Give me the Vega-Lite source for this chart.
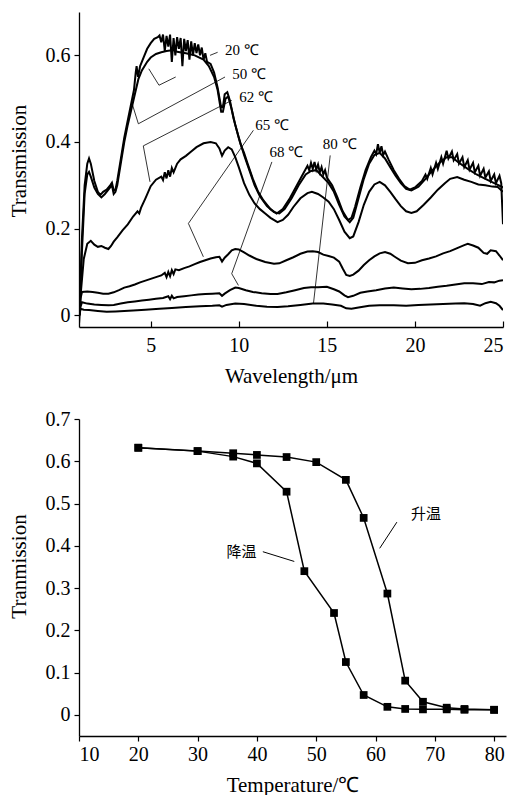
{
"$schema":"https://vega.github.io/schema/vega-lite/v6.json",
"background":"white",
"padding":{"left":8,"top":12,"right":3,"bottom":0},
"spacing":23,
"config":{"view":{"stroke":null},"font":"Liberation Serif",
"axis":{"grid":false,"domainColor":"black","domainWidth":1.3,"tickColor":"black","tickWidth":1.2,"labelColor":"black","titleColor":"black","labelFont":"Liberation Serif","titleFont":"Liberation Serif","labelFontSize":20,"titleFontSize":21,"titleFontWeight":"normal"}},
"datasets":{
"spectra":[
{"T":"20","wl":0.93,"tr":-0.02},{"T":"20","wl":1.1,"tr":0.18},{"T":"20","wl":1.25,"tr":0.3},{"T":"20","wl":1.4,"tr":0.35},{"T":"20","wl":1.5,"tr":0.362},{"T":"20","wl":1.6,"tr":0.35},{"T":"20","wl":1.8,"tr":0.31},{"T":"20","wl":2.0,"tr":0.285},{"T":"20","wl":2.15,"tr":0.278},{"T":"20","wl":2.3,"tr":0.285},{"T":"20","wl":2.5,"tr":0.29},{"T":"20","wl":2.7,"tr":0.3},{"T":"20","wl":2.8,"tr":0.306},{"T":"20","wl":2.9,"tr":0.288},{"T":"20","wl":3.0,"tr":0.29},{"T":"20","wl":3.1,"tr":0.31},{"T":"20","wl":3.3,"tr":0.36},{"T":"20","wl":3.5,"tr":0.41},{"T":"20","wl":3.7,"tr":0.45},{"T":"20","wl":3.9,"tr":0.49},{"T":"20","wl":4.05,"tr":0.52},{"T":"20","wl":4.15,"tr":0.56},{"T":"20","wl":4.2,"tr":0.575},{"T":"20","wl":4.28,"tr":0.55},{"T":"20","wl":4.4,"tr":0.575},{"T":"20","wl":4.6,"tr":0.595},{"T":"20","wl":4.8,"tr":0.615},{"T":"20","wl":5.0,"tr":0.628},{"T":"20","wl":5.2,"tr":0.638},{"T":"20","wl":5.4,"tr":0.642},{"T":"20","wl":5.5,"tr":0.646},{"T":"20","wl":5.6,"tr":0.63},{"T":"20","wl":5.7,"tr":0.648},{"T":"20","wl":5.8,"tr":0.61},{"T":"20","wl":5.9,"tr":0.645},{"T":"20","wl":6.0,"tr":0.62},{"T":"20","wl":6.1,"tr":0.648},{"T":"20","wl":6.2,"tr":0.585},{"T":"20","wl":6.3,"tr":0.64},{"T":"20","wl":6.4,"tr":0.6},{"T":"20","wl":6.5,"tr":0.642},{"T":"20","wl":6.6,"tr":0.615},{"T":"20","wl":6.7,"tr":0.64},{"T":"20","wl":6.8,"tr":0.575},{"T":"20","wl":6.9,"tr":0.638},{"T":"20","wl":7.0,"tr":0.61},{"T":"20","wl":7.1,"tr":0.635},{"T":"20","wl":7.2,"tr":0.59},{"T":"20","wl":7.3,"tr":0.632},{"T":"20","wl":7.4,"tr":0.6},{"T":"20","wl":7.5,"tr":0.628},{"T":"20","wl":7.6,"tr":0.605},{"T":"20","wl":7.7,"tr":0.625},{"T":"20","wl":7.8,"tr":0.6},{"T":"20","wl":7.9,"tr":0.618},{"T":"20","wl":8.0,"tr":0.59},{"T":"20","wl":8.1,"tr":0.605},{"T":"20","wl":8.2,"tr":0.585},{"T":"20","wl":8.4,"tr":0.58},{"T":"20","wl":8.6,"tr":0.56},{"T":"20","wl":8.8,"tr":0.525},{"T":"20","wl":9.0,"tr":0.48},{"T":"20","wl":9.1,"tr":0.48},{"T":"20","wl":9.2,"tr":0.51},{"T":"20","wl":9.35,"tr":0.515},{"T":"20","wl":9.5,"tr":0.495},{"T":"20","wl":9.7,"tr":0.455},{"T":"20","wl":9.9,"tr":0.425},{"T":"20","wl":10.1,"tr":0.395},{"T":"20","wl":10.3,"tr":0.375},{"T":"20","wl":10.5,"tr":0.35},{"T":"20","wl":10.8,"tr":0.315},{"T":"20","wl":11.1,"tr":0.285},{"T":"20","wl":11.4,"tr":0.265},{"T":"20","wl":11.8,"tr":0.245},{"T":"20","wl":12.15,"tr":0.235},{"T":"20","wl":12.5,"tr":0.245},{"T":"20","wl":12.9,"tr":0.27},{"T":"20","wl":13.3,"tr":0.3},{"T":"20","wl":13.7,"tr":0.33},{"T":"20","wl":13.9,"tr":0.345},{"T":"20","wl":14.0,"tr":0.335},{"T":"20","wl":14.1,"tr":0.352},{"T":"20","wl":14.2,"tr":0.338},{"T":"20","wl":14.3,"tr":0.354},{"T":"20","wl":14.4,"tr":0.336},{"T":"20","wl":14.5,"tr":0.348},{"T":"20","wl":14.6,"tr":0.33},{"T":"20","wl":14.7,"tr":0.342},{"T":"20","wl":14.8,"tr":0.325},{"T":"20","wl":14.9,"tr":0.335},{"T":"20","wl":15.0,"tr":0.318},{"T":"20","wl":15.3,"tr":0.3},{"T":"20","wl":15.6,"tr":0.272},{"T":"20","wl":15.9,"tr":0.24},{"T":"20","wl":16.2,"tr":0.22},{"T":"20","wl":16.4,"tr":0.225},{"T":"20","wl":16.6,"tr":0.25},{"T":"20","wl":16.9,"tr":0.295},{"T":"20","wl":17.2,"tr":0.335},{"T":"20","wl":17.5,"tr":0.365},{"T":"20","wl":17.7,"tr":0.38},{"T":"20","wl":17.8,"tr":0.372},{"T":"20","wl":17.9,"tr":0.395},{"T":"20","wl":18.0,"tr":0.375},{"T":"20","wl":18.1,"tr":0.39},{"T":"20","wl":18.2,"tr":0.37},{"T":"20","wl":18.3,"tr":0.378},{"T":"20","wl":18.5,"tr":0.36},{"T":"20","wl":18.8,"tr":0.335},{"T":"20","wl":19.1,"tr":0.315},{"T":"20","wl":19.4,"tr":0.298},{"T":"20","wl":19.7,"tr":0.29},{"T":"20","wl":20.0,"tr":0.295},{"T":"20","wl":20.4,"tr":0.31},{"T":"20","wl":20.6,"tr":0.325},{"T":"20","wl":20.7,"tr":0.315},{"T":"20","wl":20.9,"tr":0.34},{"T":"20","wl":21.0,"tr":0.325},{"T":"20","wl":21.2,"tr":0.352},{"T":"20","wl":21.3,"tr":0.338},{"T":"20","wl":21.5,"tr":0.365},{"T":"20","wl":21.6,"tr":0.35},{"T":"20","wl":21.8,"tr":0.38},{"T":"20","wl":21.9,"tr":0.362},{"T":"20","wl":22.1,"tr":0.378},{"T":"20","wl":22.2,"tr":0.358},{"T":"20","wl":22.4,"tr":0.372},{"T":"20","wl":22.5,"tr":0.35},{"T":"20","wl":22.7,"tr":0.365},{"T":"20","wl":22.8,"tr":0.342},{"T":"20","wl":23.0,"tr":0.358},{"T":"20","wl":23.1,"tr":0.336},{"T":"20","wl":23.3,"tr":0.352},{"T":"20","wl":23.4,"tr":0.33},{"T":"20","wl":23.6,"tr":0.345},{"T":"20","wl":23.7,"tr":0.322},{"T":"20","wl":23.9,"tr":0.338},{"T":"20","wl":24.0,"tr":0.318},{"T":"20","wl":24.2,"tr":0.332},{"T":"20","wl":24.3,"tr":0.31},{"T":"20","wl":24.5,"tr":0.325},{"T":"20","wl":24.6,"tr":0.305},{"T":"20","wl":24.8,"tr":0.322},{"T":"20","wl":24.9,"tr":0.305},{"T":"20","wl":25.0,"tr":0.21},
{"T":"50","wl":0.93,"tr":-0.02},{"T":"50","wl":1.1,"tr":0.15},{"T":"50","wl":1.25,"tr":0.28},{"T":"50","wl":1.4,"tr":0.325},{"T":"50","wl":1.5,"tr":0.331},{"T":"50","wl":1.6,"tr":0.32},{"T":"50","wl":1.8,"tr":0.295},{"T":"50","wl":2.0,"tr":0.28},{"T":"50","wl":2.2,"tr":0.272},{"T":"50","wl":2.4,"tr":0.28},{"T":"50","wl":2.7,"tr":0.295},{"T":"50","wl":2.8,"tr":0.3},{"T":"50","wl":2.9,"tr":0.28},{"T":"50","wl":3.0,"tr":0.285},{"T":"50","wl":3.1,"tr":0.3},{"T":"50","wl":3.3,"tr":0.35},{"T":"50","wl":3.5,"tr":0.4},{"T":"50","wl":3.7,"tr":0.44},{"T":"50","wl":3.9,"tr":0.475},{"T":"50","wl":4.1,"tr":0.51},{"T":"50","wl":4.3,"tr":0.545},{"T":"50","wl":4.5,"tr":0.565},{"T":"50","wl":4.8,"tr":0.585},{"T":"50","wl":5.0,"tr":0.595},{"T":"50","wl":5.3,"tr":0.603},{"T":"50","wl":5.6,"tr":0.607},{"T":"50","wl":5.9,"tr":0.61},{"T":"50","wl":6.3,"tr":0.612},{"T":"50","wl":6.5,"tr":0.608},{"T":"50","wl":7.0,"tr":0.605},{"T":"50","wl":7.5,"tr":0.6},{"T":"50","wl":8.0,"tr":0.59},{"T":"50","wl":8.3,"tr":0.575},{"T":"50","wl":8.6,"tr":0.55},{"T":"50","wl":8.8,"tr":0.52},{"T":"50","wl":9.0,"tr":0.47},{"T":"50","wl":9.1,"tr":0.47},{"T":"50","wl":9.25,"tr":0.5},{"T":"50","wl":9.4,"tr":0.505},{"T":"50","wl":9.6,"tr":0.475},{"T":"50","wl":9.8,"tr":0.44},{"T":"50","wl":10.0,"tr":0.41},{"T":"50","wl":10.3,"tr":0.37},{"T":"50","wl":10.6,"tr":0.335},{"T":"50","wl":10.9,"tr":0.3},{"T":"50","wl":11.2,"tr":0.275},{"T":"50","wl":11.6,"tr":0.252},{"T":"50","wl":12.0,"tr":0.238},{"T":"50","wl":12.3,"tr":0.235},{"T":"50","wl":12.6,"tr":0.245},{"T":"50","wl":13.0,"tr":0.27},{"T":"50","wl":13.4,"tr":0.3},{"T":"50","wl":13.8,"tr":0.325},{"T":"50","wl":14.1,"tr":0.333},{"T":"50","wl":14.4,"tr":0.335},{"T":"50","wl":14.8,"tr":0.318},{"T":"50","wl":15.1,"tr":0.305},{"T":"50","wl":15.4,"tr":0.285},{"T":"50","wl":15.7,"tr":0.255},{"T":"50","wl":16.0,"tr":0.228},{"T":"50","wl":16.3,"tr":0.215},{"T":"50","wl":16.5,"tr":0.225},{"T":"50","wl":16.8,"tr":0.27},{"T":"50","wl":17.1,"tr":0.315},{"T":"50","wl":17.4,"tr":0.35},{"T":"50","wl":17.7,"tr":0.37},{"T":"50","wl":18.0,"tr":0.375},{"T":"50","wl":18.3,"tr":0.362},{"T":"50","wl":18.6,"tr":0.342},{"T":"50","wl":18.9,"tr":0.322},{"T":"50","wl":19.2,"tr":0.305},{"T":"50","wl":19.5,"tr":0.292},{"T":"50","wl":19.8,"tr":0.288},{"T":"50","wl":20.2,"tr":0.297},{"T":"50","wl":20.6,"tr":0.315},{"T":"50","wl":21.0,"tr":0.335},{"T":"50","wl":21.4,"tr":0.352},{"T":"50","wl":21.8,"tr":0.365},{"T":"50","wl":22.1,"tr":0.365},{"T":"50","wl":22.5,"tr":0.352},{"T":"50","wl":23.0,"tr":0.338},{"T":"50","wl":23.5,"tr":0.325},{"T":"50","wl":24.0,"tr":0.315},{"T":"50","wl":24.5,"tr":0.305},{"T":"50","wl":25.0,"tr":0.295},
{"T":"62","wl":0.95,"tr":0.0},{"T":"62","wl":1.05,"tr":0.06},{"T":"62","wl":1.2,"tr":0.13},{"T":"62","wl":1.4,"tr":0.165},{"T":"62","wl":1.6,"tr":0.172},{"T":"62","wl":1.8,"tr":0.163},{"T":"62","wl":2.0,"tr":0.158},{"T":"62","wl":2.2,"tr":0.16},{"T":"62","wl":2.4,"tr":0.156},{"T":"62","wl":2.6,"tr":0.153},{"T":"62","wl":2.75,"tr":0.16},{"T":"62","wl":2.9,"tr":0.17},{"T":"62","wl":3.1,"tr":0.18},{"T":"62","wl":3.4,"tr":0.196},{"T":"62","wl":3.7,"tr":0.21},{"T":"62","wl":4.0,"tr":0.228},{"T":"62","wl":4.25,"tr":0.24},{"T":"62","wl":4.35,"tr":0.235},{"T":"62","wl":4.45,"tr":0.248},{"T":"62","wl":4.7,"tr":0.27},{"T":"62","wl":5.0,"tr":0.298},{"T":"62","wl":5.3,"tr":0.313},{"T":"62","wl":5.6,"tr":0.32},{"T":"62","wl":5.7,"tr":0.312},{"T":"62","wl":5.8,"tr":0.33},{"T":"62","wl":5.9,"tr":0.316},{"T":"62","wl":6.0,"tr":0.335},{"T":"62","wl":6.1,"tr":0.32},{"T":"62","wl":6.2,"tr":0.34},{"T":"62","wl":6.3,"tr":0.33},{"T":"62","wl":6.5,"tr":0.35},{"T":"62","wl":6.7,"tr":0.36},{"T":"62","wl":7.0,"tr":0.368},{"T":"62","wl":7.3,"tr":0.378},{"T":"62","wl":7.6,"tr":0.388},{"T":"62","wl":8.0,"tr":0.397},{"T":"62","wl":8.4,"tr":0.4},{"T":"62","wl":8.7,"tr":0.397},{"T":"62","wl":8.9,"tr":0.385},{"T":"62","wl":9.05,"tr":0.368},{"T":"62","wl":9.2,"tr":0.38},{"T":"62","wl":9.4,"tr":0.388},{"T":"62","wl":9.6,"tr":0.383},{"T":"62","wl":9.8,"tr":0.365},{"T":"62","wl":10.0,"tr":0.342},{"T":"62","wl":10.3,"tr":0.305},{"T":"62","wl":10.6,"tr":0.278},{"T":"62","wl":10.9,"tr":0.258},{"T":"62","wl":11.2,"tr":0.245},{"T":"62","wl":11.5,"tr":0.235},{"T":"62","wl":11.8,"tr":0.225},{"T":"62","wl":12.2,"tr":0.215},{"T":"62","wl":12.5,"tr":0.22},{"T":"62","wl":12.8,"tr":0.232},{"T":"62","wl":13.1,"tr":0.25},{"T":"62","wl":13.5,"tr":0.27},{"T":"62","wl":13.9,"tr":0.282},{"T":"62","wl":14.15,"tr":0.285},{"T":"62","wl":14.5,"tr":0.28},{"T":"62","wl":14.8,"tr":0.272},{"T":"62","wl":15.1,"tr":0.262},{"T":"62","wl":15.4,"tr":0.245},{"T":"62","wl":15.7,"tr":0.22},{"T":"62","wl":16.0,"tr":0.193},{"T":"62","wl":16.3,"tr":0.178},{"T":"62","wl":16.5,"tr":0.182},{"T":"62","wl":16.8,"tr":0.215},{"T":"62","wl":17.1,"tr":0.255},{"T":"62","wl":17.4,"tr":0.285},{"T":"62","wl":17.7,"tr":0.302},{"T":"62","wl":18.0,"tr":0.308},{"T":"62","wl":18.3,"tr":0.3},{"T":"62","wl":18.6,"tr":0.285},{"T":"62","wl":18.9,"tr":0.268},{"T":"62","wl":19.2,"tr":0.252},{"T":"62","wl":19.5,"tr":0.24},{"T":"62","wl":19.8,"tr":0.236},{"T":"62","wl":20.1,"tr":0.24},{"T":"62","wl":20.5,"tr":0.255},{"T":"62","wl":20.9,"tr":0.272},{"T":"62","wl":21.3,"tr":0.29},{"T":"62","wl":21.7,"tr":0.305},{"T":"62","wl":22.0,"tr":0.315},{"T":"62","wl":22.4,"tr":0.319},{"T":"62","wl":22.8,"tr":0.313},{"T":"62","wl":23.2,"tr":0.308},{"T":"62","wl":23.6,"tr":0.302},{"T":"62","wl":24.0,"tr":0.3},{"T":"62","wl":24.4,"tr":0.297},{"T":"62","wl":24.7,"tr":0.296},{"T":"62","wl":25.0,"tr":0.285},
{"T":"65","wl":0.95,"tr":0.0},{"T":"65","wl":1.02,"tr":0.04},{"T":"65","wl":1.1,"tr":0.054},{"T":"65","wl":1.4,"tr":0.055},{"T":"65","wl":1.7,"tr":0.054},{"T":"65","wl":2.0,"tr":0.052},{"T":"65","wl":2.3,"tr":0.05},{"T":"65","wl":2.6,"tr":0.05},{"T":"65","wl":2.9,"tr":0.053},{"T":"65","wl":3.2,"tr":0.058},{"T":"65","wl":3.5,"tr":0.064},{"T":"65","wl":3.8,"tr":0.067},{"T":"65","wl":4.1,"tr":0.071},{"T":"65","wl":4.4,"tr":0.076},{"T":"65","wl":4.7,"tr":0.08},{"T":"65","wl":5.0,"tr":0.084},{"T":"65","wl":5.3,"tr":0.088},{"T":"65","wl":5.6,"tr":0.092},{"T":"65","wl":5.8,"tr":0.098},{"T":"65","wl":5.9,"tr":0.088},{"T":"65","wl":6.0,"tr":0.1},{"T":"65","wl":6.1,"tr":0.09},{"T":"65","wl":6.2,"tr":0.104},{"T":"65","wl":6.3,"tr":0.095},{"T":"65","wl":6.4,"tr":0.106},{"T":"65","wl":6.6,"tr":0.104},{"T":"65","wl":6.9,"tr":0.109},{"T":"65","wl":7.2,"tr":0.113},{"T":"65","wl":7.5,"tr":0.118},{"T":"65","wl":7.8,"tr":0.123},{"T":"65","wl":8.1,"tr":0.127},{"T":"65","wl":8.4,"tr":0.131},{"T":"65","wl":8.7,"tr":0.134},{"T":"65","wl":8.9,"tr":0.135},{"T":"65","wl":9.05,"tr":0.124},{"T":"65","wl":9.2,"tr":0.133},{"T":"65","wl":9.4,"tr":0.141},{"T":"65","wl":9.6,"tr":0.15},{"T":"65","wl":9.8,"tr":0.153},{"T":"65","wl":10.0,"tr":0.152},{"T":"65","wl":10.3,"tr":0.145},{"T":"65","wl":10.6,"tr":0.138},{"T":"65","wl":11.0,"tr":0.13},{"T":"65","wl":11.5,"tr":0.123},{"T":"65","wl":12.0,"tr":0.119},{"T":"65","wl":12.3,"tr":0.12},{"T":"65","wl":12.7,"tr":0.127},{"T":"65","wl":13.1,"tr":0.134},{"T":"65","wl":13.5,"tr":0.142},{"T":"65","wl":13.9,"tr":0.147},{"T":"65","wl":14.2,"tr":0.148},{"T":"65","wl":14.5,"tr":0.146},{"T":"65","wl":14.8,"tr":0.14},{"T":"65","wl":15.1,"tr":0.137},{"T":"65","wl":15.4,"tr":0.133},{"T":"65","wl":15.7,"tr":0.124},{"T":"65","wl":15.9,"tr":0.108},{"T":"65","wl":16.1,"tr":0.093},{"T":"65","wl":16.3,"tr":0.091},{"T":"65","wl":16.5,"tr":0.094},{"T":"65","wl":16.8,"tr":0.103},{"T":"65","wl":17.1,"tr":0.116},{"T":"65","wl":17.4,"tr":0.127},{"T":"65","wl":17.7,"tr":0.136},{"T":"65","wl":18.0,"tr":0.143},{"T":"65","wl":18.3,"tr":0.146},{"T":"65","wl":18.6,"tr":0.142},{"T":"65","wl":18.9,"tr":0.134},{"T":"65","wl":19.2,"tr":0.126},{"T":"65","wl":19.6,"tr":0.12},{"T":"65","wl":20.0,"tr":0.121},{"T":"65","wl":20.4,"tr":0.127},{"T":"65","wl":20.8,"tr":0.131},{"T":"65","wl":21.2,"tr":0.136},{"T":"65","wl":21.6,"tr":0.143},{"T":"65","wl":22.0,"tr":0.148},{"T":"65","wl":22.4,"tr":0.155},{"T":"65","wl":22.8,"tr":0.162},{"T":"65","wl":23.0,"tr":0.165},{"T":"65","wl":23.3,"tr":0.161},{"T":"65","wl":23.6,"tr":0.156},{"T":"65","wl":23.9,"tr":0.144},{"T":"65","wl":24.1,"tr":0.142},{"T":"65","wl":24.3,"tr":0.15},{"T":"65","wl":24.6,"tr":0.148},{"T":"65","wl":24.8,"tr":0.138},{"T":"65","wl":25.0,"tr":0.127},
{"T":"68","wl":0.95,"tr":0.0},{"T":"68","wl":1.02,"tr":0.02},{"T":"68","wl":1.1,"tr":0.03},{"T":"68","wl":1.4,"tr":0.027},{"T":"68","wl":1.8,"tr":0.025},{"T":"68","wl":2.2,"tr":0.024},{"T":"68","wl":2.6,"tr":0.023},{"T":"68","wl":2.9,"tr":0.024},{"T":"68","wl":3.3,"tr":0.027},{"T":"68","wl":3.7,"tr":0.03},{"T":"68","wl":4.1,"tr":0.032},{"T":"68","wl":4.5,"tr":0.034},{"T":"68","wl":4.9,"tr":0.036},{"T":"68","wl":5.3,"tr":0.038},{"T":"68","wl":5.7,"tr":0.04},{"T":"68","wl":6.0,"tr":0.044},{"T":"68","wl":6.1,"tr":0.037},{"T":"68","wl":6.2,"tr":0.045},{"T":"68","wl":6.3,"tr":0.039},{"T":"68","wl":6.5,"tr":0.042},{"T":"68","wl":6.9,"tr":0.044},{"T":"68","wl":7.3,"tr":0.046},{"T":"68","wl":7.7,"tr":0.048},{"T":"68","wl":8.1,"tr":0.049},{"T":"68","wl":8.5,"tr":0.05},{"T":"68","wl":8.9,"tr":0.051},{"T":"68","wl":9.05,"tr":0.045},{"T":"68","wl":9.2,"tr":0.05},{"T":"68","wl":9.5,"tr":0.058},{"T":"68","wl":9.8,"tr":0.064},{"T":"68","wl":10.0,"tr":0.063},{"T":"68","wl":10.4,"tr":0.058},{"T":"68","wl":10.8,"tr":0.054},{"T":"68","wl":11.3,"tr":0.051},{"T":"68","wl":11.8,"tr":0.049},{"T":"68","wl":12.2,"tr":0.049},{"T":"68","wl":12.7,"tr":0.053},{"T":"68","wl":13.2,"tr":0.058},{"T":"68","wl":13.7,"tr":0.063},{"T":"68","wl":14.1,"tr":0.065},{"T":"68","wl":14.5,"tr":0.065},{"T":"68","wl":15.0,"tr":0.066},{"T":"68","wl":15.4,"tr":0.06},{"T":"68","wl":15.7,"tr":0.055},{"T":"68","wl":16.0,"tr":0.046},{"T":"68","wl":16.2,"tr":0.042},{"T":"68","wl":16.5,"tr":0.045},{"T":"68","wl":16.9,"tr":0.052},{"T":"68","wl":17.3,"tr":0.055},{"T":"68","wl":17.8,"tr":0.058},{"T":"68","wl":18.3,"tr":0.062},{"T":"68","wl":18.8,"tr":0.064},{"T":"68","wl":19.3,"tr":0.062},{"T":"68","wl":19.8,"tr":0.06},{"T":"68","wl":20.3,"tr":0.061},{"T":"68","wl":20.8,"tr":0.063},{"T":"68","wl":21.3,"tr":0.066},{"T":"68","wl":21.8,"tr":0.068},{"T":"68","wl":22.3,"tr":0.071},{"T":"68","wl":22.8,"tr":0.074},{"T":"68","wl":23.3,"tr":0.074},{"T":"68","wl":23.8,"tr":0.072},{"T":"68","wl":24.2,"tr":0.077},{"T":"68","wl":24.5,"tr":0.076},{"T":"68","wl":24.8,"tr":0.08},{"T":"68","wl":25.0,"tr":0.081},
{"T":"80","wl":0.95,"tr":0.0},{"T":"80","wl":1.02,"tr":0.015},{"T":"80","wl":1.2,"tr":0.013},{"T":"80","wl":1.5,"tr":0.012},{"T":"80","wl":2.0,"tr":0.01},{"T":"80","wl":2.5,"tr":0.008},{"T":"80","wl":3.0,"tr":0.009},{"T":"80","wl":3.5,"tr":0.01},{"T":"80","wl":4.0,"tr":0.011},{"T":"80","wl":4.7,"tr":0.013},{"T":"80","wl":5.5,"tr":0.015},{"T":"80","wl":6.2,"tr":0.017},{"T":"80","wl":7.0,"tr":0.019},{"T":"80","wl":7.8,"tr":0.021},{"T":"80","wl":8.5,"tr":0.022},{"T":"80","wl":8.9,"tr":0.023},{"T":"80","wl":9.05,"tr":0.02},{"T":"80","wl":9.3,"tr":0.024},{"T":"80","wl":9.8,"tr":0.027},{"T":"80","wl":10.3,"tr":0.026},{"T":"80","wl":11.0,"tr":0.022},{"T":"80","wl":11.6,"tr":0.02},{"T":"80","wl":12.2,"tr":0.019},{"T":"80","wl":12.8,"tr":0.021},{"T":"80","wl":13.5,"tr":0.024},{"T":"80","wl":14.2,"tr":0.027},{"T":"80","wl":14.8,"tr":0.027},{"T":"80","wl":15.3,"tr":0.025},{"T":"80","wl":15.8,"tr":0.022},{"T":"80","wl":16.1,"tr":0.016},{"T":"80","wl":16.4,"tr":0.015},{"T":"80","wl":16.8,"tr":0.018},{"T":"80","wl":17.4,"tr":0.022},{"T":"80","wl":18.0,"tr":0.023},{"T":"80","wl":18.8,"tr":0.023},{"T":"80","wl":19.5,"tr":0.022},{"T":"80","wl":20.2,"tr":0.024},{"T":"80","wl":20.9,"tr":0.025},{"T":"80","wl":21.6,"tr":0.026},{"T":"80","wl":22.3,"tr":0.027},{"T":"80","wl":22.8,"tr":0.028},{"T":"80","wl":23.3,"tr":0.026},{"T":"80","wl":23.7,"tr":0.022},{"T":"80","wl":24.0,"tr":0.028},{"T":"80","wl":24.3,"tr":0.031},{"T":"80","wl":24.6,"tr":0.028},{"T":"80","wl":24.8,"tr":0.022},{"T":"80","wl":25.0,"tr":0.012}
],
"leaders1":[
{"id":"v","o":1,"x":4.89,"y":0.569},{"id":"v","o":2,"x":5.47,"y":0.531},{"id":"v","o":3,"x":6.42,"y":0.55},
{"id":"a20","o":1,"x":8.37,"y":0.6},{"id":"a20","o":2,"x":8.8,"y":0.607},
{"id":"a50","o":1,"x":9.22,"y":0.55},{"id":"a50","o":2,"x":4.3,"y":0.442},{"id":"a50","o":3,"x":3.92,"y":0.492},
{"id":"a62","o":1,"x":9.6,"y":0.496},{"id":"a62","o":2,"x":4.58,"y":0.391},{"id":"a62","o":3,"x":4.96,"y":0.308},
{"id":"a65","o":1,"x":10.83,"y":0.427},{"id":"a65","o":2,"x":7.14,"y":0.212},{"id":"a65","o":3,"x":7.99,"y":0.135},
{"id":"a68","o":1,"x":11.88,"y":0.354},{"id":"a68","o":2,"x":9.6,"y":0.096},{"id":"a68","o":3,"x":9.98,"y":0.069},
{"id":"a80","o":1,"x":15.19,"y":0.369},{"id":"a80","o":2,"x":14.24,"y":0.027}
],
"labels1":[
{"x":9.22,"y":0.612,"text":"20 ℃"},{"x":9.63,"y":0.558,"text":"50 ℃"},{"x":10.03,"y":0.504,"text":"62 ℃"},{"x":10.93,"y":0.44,"text":"65 ℃"},{"x":11.74,"y":0.377,"text":"68 ℃"},{"x":14.77,"y":0.396,"text":"80 ℃"}
],
"temp":[
{"s":"heat","t":20,"v":0.632},{"s":"heat","t":30,"v":0.624},{"s":"heat","t":36,"v":0.619},{"s":"heat","t":40,"v":0.615},{"s":"heat","t":45,"v":0.61},{"s":"heat","t":50,"v":0.598},{"s":"heat","t":55,"v":0.556},{"s":"heat","t":58,"v":0.466},{"s":"heat","t":62,"v":0.287},{"s":"heat","t":65,"v":0.081},{"s":"heat","t":68,"v":0.031},{"s":"heat","t":72,"v":0.017},{"s":"heat","t":75,"v":0.014},{"s":"heat","t":80,"v":0.012},
{"s":"cool","t":20,"v":0.632},{"s":"cool","t":30,"v":0.624},{"s":"cool","t":36,"v":0.611},{"s":"cool","t":40,"v":0.595},{"s":"cool","t":45,"v":0.528},{"s":"cool","t":48,"v":0.34},{"s":"cool","t":53,"v":0.241},{"s":"cool","t":55,"v":0.125},{"s":"cool","t":58,"v":0.047},{"s":"cool","t":62,"v":0.019},{"s":"cool","t":65,"v":0.014},{"s":"cool","t":68,"v":0.013},{"s":"cool","t":72,"v":0.013},{"s":"cool","t":75,"v":0.012},{"s":"cool","t":80,"v":0.012}
],
"leaders2":[
{"id":"h","o":1,"x":63.6,"y":0.456},{"id":"h","o":2,"x":60.7,"y":0.394},
{"id":"c","o":1,"x":41.0,"y":0.386},{"id":"c","o":2,"x":46.3,"y":0.363}
],
"labels2":[
{"x":68.5,"y":0.475,"text":"升温"},{"x":37.4,"y":0.386,"text":"降温"}
]
},
"vconcat":[
{
"width":424,"height":315,
"layer":[
{"data":{"name":"spectra"},"mark":{"type":"line","color":"black","strokeWidth":2,"clip":true},
"encoding":{
"x":{"field":"wl","type":"quantitative","scale":{"domain":[0.93,25],"nice":false,"zero":false},"axis":{"values":[5,10,15,20,25],"title":"Wavelength/μm","tickSize":-6,"labelPadding":30.7,"labelBaseline":"alphabetic","titleBaseline":"alphabetic","titleY":55,"labelFont":"Liberation Serif","titleFont":"Liberation Serif"}},
"y":{"field":"tr","type":"quantitative","scale":{"domain":[-0.027,0.7],"nice":false,"zero":false},"axis":{"values":[0,0.2,0.4,0.6],"format":".1~f","title":"Transmission","tickSize":5,"labelPadding":4,"titleBaseline":"alphabetic","titleX":-54,"titleY":148.5,"labelFont":"Liberation Serif","titleFont":"Liberation Serif"}},
"detail":{"field":"T"}}},
{"data":{"name":"leaders1"},"mark":{"type":"line","color":"black","strokeWidth":0.8},
"encoding":{"x":{"field":"x","type":"quantitative"},"y":{"field":"y","type":"quantitative"},"detail":{"field":"id"},"order":{"field":"o"}}},
{"data":{"name":"labels1"},"mark":{"type":"text","align":"left","baseline":"middle","font":"Liberation Serif","fontSize":15,"color":"black"},
"encoding":{"x":{"field":"x","type":"quantitative"},"y":{"field":"y","type":"quantitative"},"text":{"field":"text"}}}
]
},
{
"width":427,"height":317,
"layer":[
{"data":{"name":"temp"},"mark":{"type":"line","color":"black","strokeWidth":1.5,"point":{"shape":"square","filled":true,"size":60,"color":"black"}},
"encoding":{
"x":{"field":"t","type":"quantitative","scale":{"domain":[10,82],"nice":false,"zero":false},"axis":{"values":[10,20,30,40,50,60,70,80],"title":"Temperature/℃","tickSize":5,"labelPadding":19.7,"labelBaseline":"alphabetic","titleBaseline":"alphabetic","titleY":55,"labelFont":"Liberation Serif","titleFont":"Liberation Serif"}},
"y":{"field":"v","type":"quantitative","scale":{"domain":[-0.05,0.7],"nice":false,"zero":false},"axis":{"values":[0,0.1,0.2,0.3,0.4,0.5,0.6,0.7],"format":".1~f","title":"Tranmission","tickSize":5,"labelPadding":4,"titleBaseline":"alphabetic","titleX":-54,"titleY":147,"labelFont":"Liberation Serif","titleFont":"Liberation Serif"}},
"detail":{"field":"s"}}},
{"data":{"name":"leaders2"},"mark":{"type":"line","color":"black","strokeWidth":1},
"encoding":{"x":{"field":"x","type":"quantitative"},"y":{"field":"y","type":"quantitative"},"detail":{"field":"id"},"order":{"field":"o"}}},
{"data":{"name":"labels2"},"mark":{"type":"text","align":"center","baseline":"middle","font":"Noto Sans CJK SC","fontSize":15,"color":"black"},
"encoding":{"x":{"field":"x","type":"quantitative"},"y":{"field":"y","type":"quantitative"},"text":{"field":"text"}}}
]
}
]
}
